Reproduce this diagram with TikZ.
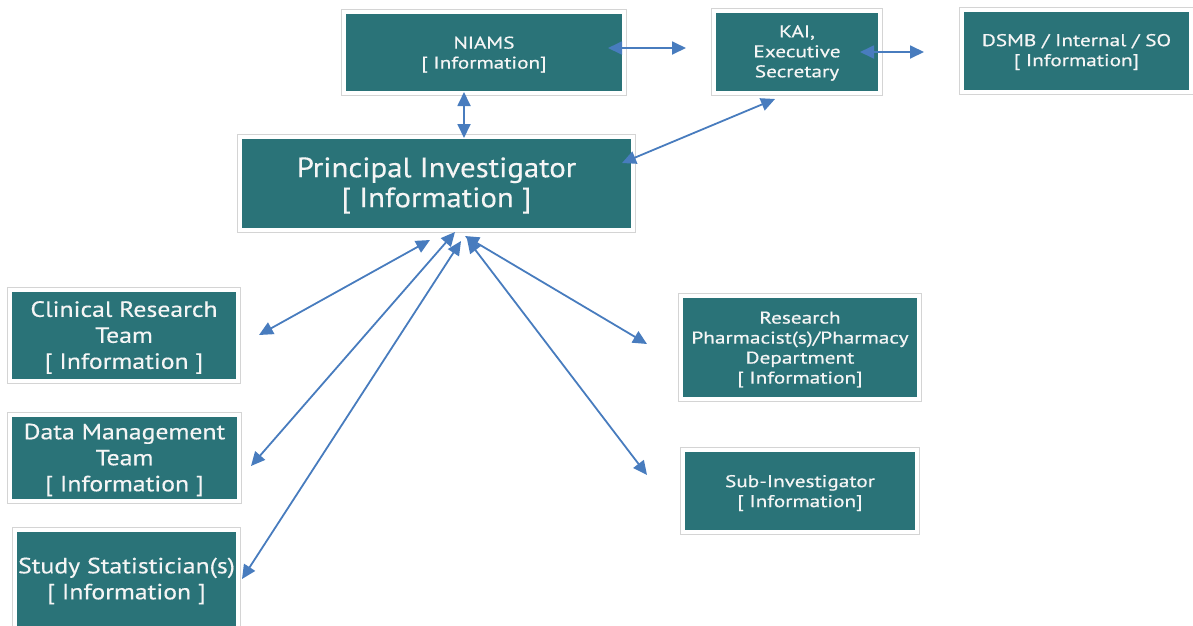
\documentclass[tikz,border=0pt]{standalone}
\usepackage{fontspec}
\setmainfont{PT Sans}
\newfontfamily\bigfont[FakeStretch=1.10,FakeBold=0.3]{PT Sans}
\newfontfamily\midfont[FakeStretch=1.17,FakeBold=0.4]{PT Sans}
\newfontfamily\smallfont[FakeStretch=1.25,FakeBold=0.5]{PT Sans}
\usetikzlibrary{arrows.meta,fit}
\definecolor{tealfill}{RGB}{42,115,120}
\definecolor{arrowblue}{RGB}{72,124,190}
\definecolor{framegray}{RGB}{212,212,212}
\definecolor{textwhite}{RGB}{245,245,245}
\tikzset{
  tealbox/.style={fill=tealfill, draw=none, inner sep=0pt},
  txt/.style={text=textwhite, align=center, inner sep=0pt, yshift=-2pt},
  frame/.style={draw=framegray, line width=0.9pt, inner sep=4.5pt},
  bigtxt/.style={txt, font=\bigfont\fontsize{28}{30}\selectfont},
  midtxt/.style={txt, font=\midfont\fontsize{22}{26}\selectfont},
  smalltxt/.style={txt, font=\smallfont\fontsize{17}{20}\selectfont},
  link/.style={draw=arrowblue, line width=1.8pt, {Triangle[length=14pt,width=13pt]}-{Triangle[length=14pt,width=13pt]}}
}
\begin{document}
\begin{tikzpicture}[x=1pt,y=-1pt]
\useasboundingbox (0,0) rectangle (1193,625);
% boxes
\node[tealbox, minimum width=276pt, minimum height=77pt] (niams) at (484,52.5) {};
\node[tealbox, minimum width=162pt, minimum height=78pt] (kai) at (797,52) {};
\node[tealbox, minimum width=225pt, minimum height=78pt] (dsmb) at (1076.5,51) {};
\node[tealbox, minimum width=389pt, minimum height=89pt] (pi) at (436.5,183.5) {};
\node[tealbox, minimum width=224pt, minimum height=87pt] (crt) at (124,335.5) {};
\node[tealbox, minimum width=225pt, minimum height=82pt] (dmt) at (124.5,458) {};
\node[tealbox, minimum width=219pt, minimum height=94pt] (stat) at (126.5,579) {};
\node[tealbox, minimum width=234pt, minimum height=99pt] (pharm) at (800,347.5) {};
\node[tealbox, minimum width=230pt, minimum height=78pt] (subi) at (800,491) {};
% texts
\node[smalltxt] (niams-t) at (niams) {NIAMS\\{[} Information{]}};
\node[smalltxt, yshift=1pt] (kai-t) at (kai) {KAI,\\Executive\\Secretary};
\node[smalltxt, yshift=1pt] (dsmb-t) at (dsmb) {DSMB / Internal / SO\\{[} Information{]}};
\node[bigtxt] (pi-t) at (pi) {Principal Investigator\\{[} Information ]};
\node[midtxt] (crt-t) at (crt) {Clinical Research\\Team\\{[} Information ]};
\node[midtxt] (dmt-t) at (dmt) {Data Management\\Team\\{[} Information ]};
\node[midtxt] (stat-t) at (stat) {Study Statistician(s)\\{[} Information ]};
\node[smalltxt] (pharm-t) at (pharm) {Research\\Pharmacist(s)/Pharmacy\\Department\\{[} Information{]}};
\node[smalltxt] (subi-t) at (subi) {Sub-Investigator\\{[} Information{]}};
% frames
\foreach \n in {niams,kai,dsmb,pi,crt,dmt,stat,pharm,subi}
  \node[frame, fit=(\n)] (\n-frame) {};
% connector ends
\coordinate (c1a) at (608,48);  \coordinate (c1b) at (686,48);
\coordinate (c2a) at (860,52);  \coordinate (c2b) at (924,52);
\coordinate (c3a) at (464,92);  \coordinate (c3b) at (464,138);
\coordinate (c4a) at (622,163); \coordinate (c4b) at (775,99);
\coordinate (c5a) at (430,240); \coordinate (c5b) at (259,335);
\coordinate (c6a) at (455,232); \coordinate (c6b) at (251,466);
\coordinate (c7a) at (461,241); \coordinate (c7b) at (242,579);
\coordinate (c8a) at (465,236); \coordinate (c8b) at (647,344);
\coordinate (c9a) at (467,239); \coordinate (c9b) at (647,475);
\foreach \k in {1,...,9}
  \draw[link] (c\k a) -- (c\k b);
\end{tikzpicture}
\end{document}
